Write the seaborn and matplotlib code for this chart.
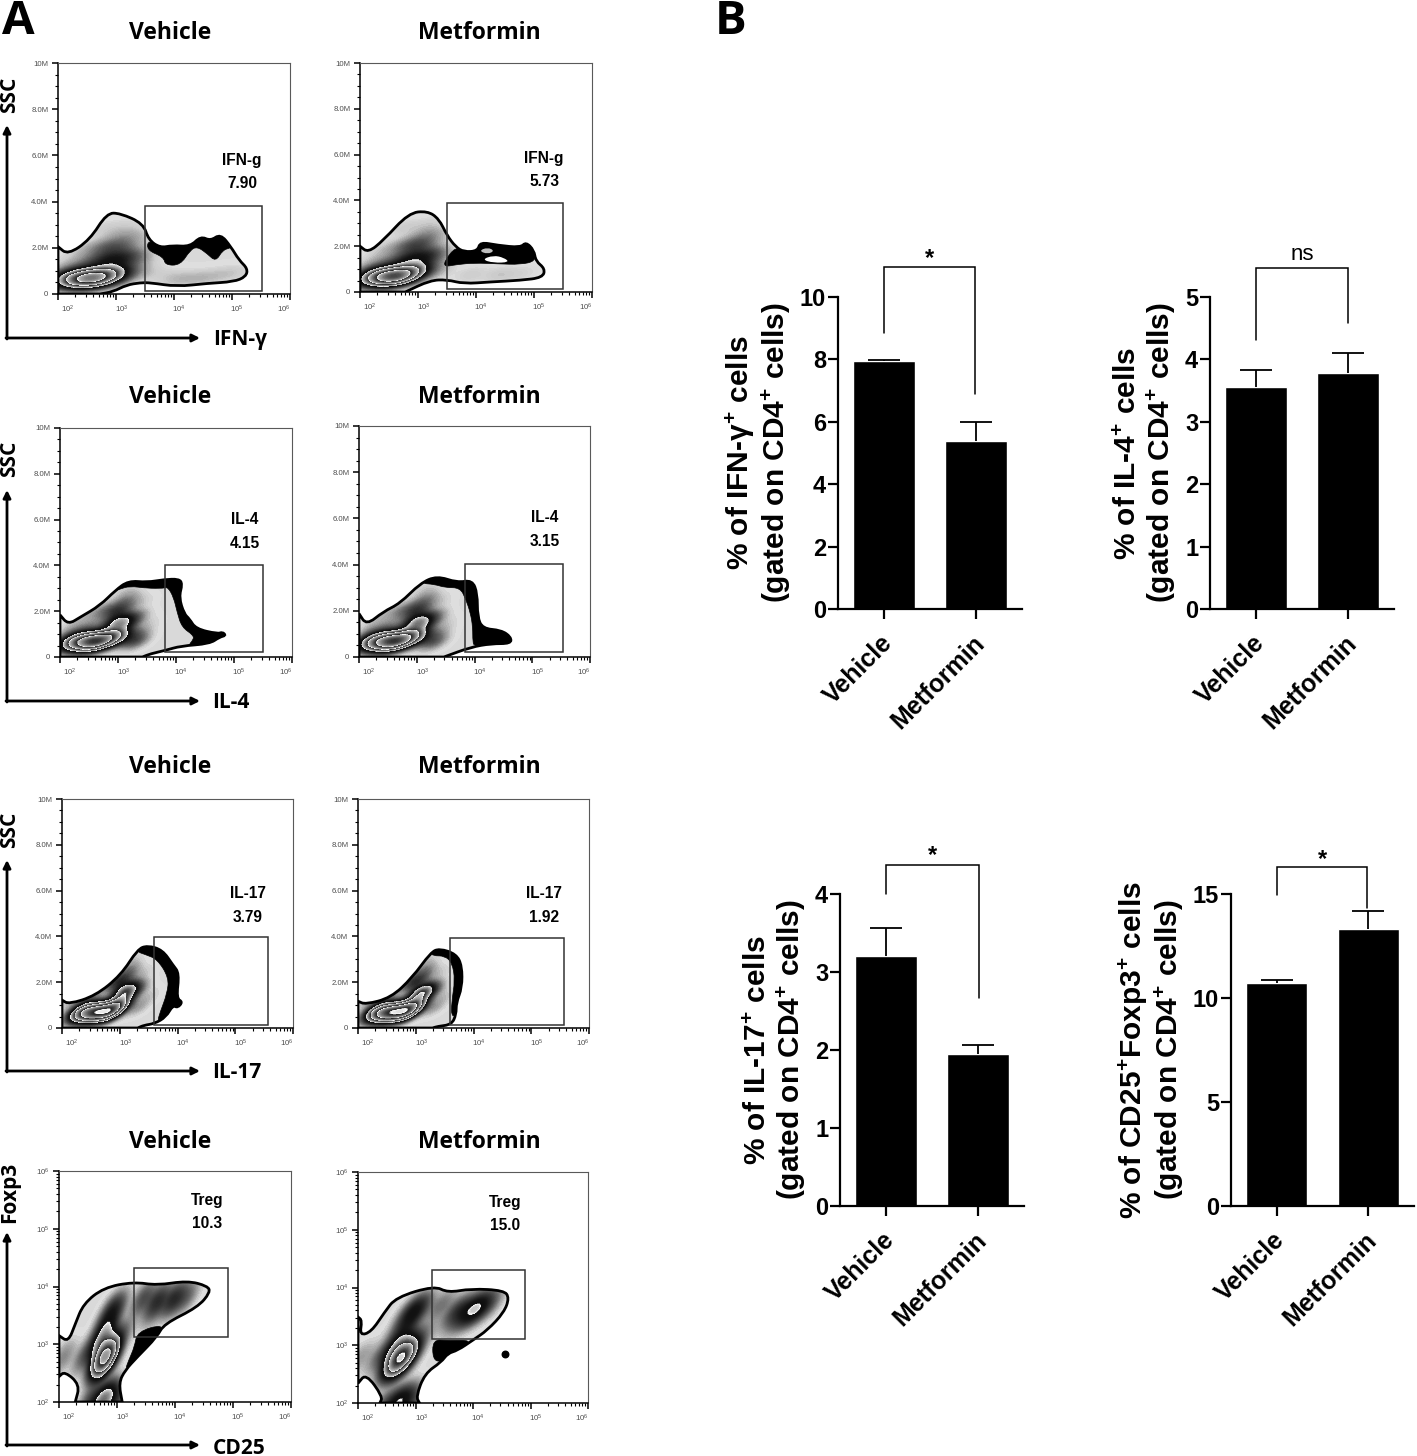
import numpy as np
import pandas as pd
import matplotlib
matplotlib.use('Agg')
import matplotlib.pyplot as plt
import seaborn as sns
from matplotlib.colors import LinearSegmentedColormap, LogNorm
from matplotlib.patches import PathPatch, Rectangle
from matplotlib.path import Path
from matplotlib.transforms import ScaledTranslation

sns.set_style('ticks')
plt.rcParams['font.family'] = ['Liberation Sans', 'DejaVu Sans']
plt.rcParams['mathtext.default'] = 'regular'
for key in ['text.color', 'axes.labelcolor', 'xtick.color', 'ytick.color', 'axes.edgecolor']:
    plt.rcParams[key] = 'black'

W, H = 1417, 1456

# ---- bar chart data (panel B)
groups = ['Vehicle', 'Metformin']
ifn_pct, ifn_err = [7.95, 5.38], [0.03, 0.62]
il4_pct, il4_err = [3.55, 3.78], [0.28, 0.32]
il17_pct, il17_err = [3.20, 1.95], [0.36, 0.11]
treg_pct, treg_err = [10.7, 13.3], [0.17, 0.90]

# ---- flow plots (panel A): outline of the population, black outer contour,
# cell clusters (x, y, weight). x is log10 of the marker, y SSC in millions
# (or log10 of Foxp3 for the last row)
ifn_v_outline = [(2, 2.05), (2.17, 1.7), (2.55, 2.35), (2.84, 3.5), (3.07, 3.5), (3.47, 3.05), (3.56, 2.35),
                 (3.76, 2.0), (3.97, 2.1), (4.28, 2.05), (4.46, 2.5), (4.63, 2.3), (4.8, 2.6), (4.98, 2.05),
                 (5.12, 1.47), (5.27, 1.1), (5.24, 0.75), (5.03, 0.53), (4.57, 0.46), (4.05, 0.32), (3.59, 0.49),
                 (3.42, 0.49), (3.18, 0.39), (2.95, 0.1), (2.72, 0), (2, 0)]
ifn_v_black = [(3.56, 2.35), (3.76, 2.0), (3.97, 2.1), (4.28, 2.05), (4.46, 2.5), (4.63, 2.3), (4.8, 2.6),
               (4.98, 2.05), (4.98, 2.0), (4.84, 1.9), (4.72, 1.4), (4.57, 1.75), (4.4, 2.05), (4.28, 1.9),
               (4.11, 1.25), (3.85, 1.25), (3.82, 1.6), (3.53, 1.9)]
ifn_m_outline = [(2, 2.0), (2.14, 1.72), (2.4, 2.25), (2.84, 3.45), (3.16, 3.54), (3.36, 3.2), (3.5, 2.47),
                 (3.65, 1.97), (3.79, 1.75), (4.03, 1.79), (4.07, 2.18), (4.37, 2.04), (4.77, 1.94), (4.86, 2.18),
                 (5.0, 1.82), (5.03, 1.35), (5.19, 1.02), (5.15, 0.63), (4.77, 0.51), (4.25, 0.44), (3.79, 0.36),
                 (3.5, 0.54), (3.21, 0.51), (2.78, 0), (2, 0)]
ifn_m_black = [(3.65, 1.97), (3.79, 1.75), (4.03, 1.79), (4.07, 2.18), (4.37, 2.04), (4.77, 1.94), (4.86, 2.18),
               (5.0, 1.82), (5.03, 1.35), (4.77, 1.2), (4.37, 1.23), (3.98, 1.27), (3.67, 1.2), (3.45, 1.1),
               (3.47, 1.4)]
ifn_m_hole_white = [(4.1, 1.42), (4.3, 1.6), (4.48, 1.5), (4.58, 1.3), (4.3, 1.27)]
ifn_m_hole_gray = [(4.05, 1.8), (4.2, 1.95), (4.32, 1.8), (4.2, 1.65)]
il4_v_outline = [(2, 1.84), (2.14, 1.42), (2.35, 1.74), (2.69, 2.25), (2.95, 2.9), (3.18, 3.33), (3.5, 3.26),
                 (3.79, 3.38), (4.05, 3.41), (4.11, 3.19), (4.05, 2.61), (4.14, 1.88), (4.23, 1.67), (4.34, 1.23),
                 (4.72, 1.01), (4.8, 1.09), (4.86, 0.94), (4.75, 0.87), (4.58, 0.58), (4.08, 0.48), (3.82, 0.29),
                 (3.56, 0.14), (3.42, 0), (2, 0)]
il4_v_black = [(2.95, 2.9), (3.18, 3.33), (3.5, 3.26), (3.79, 3.38), (4.05, 3.41), (4.11, 3.19), (4.05, 2.61),
               (4.14, 1.88), (4.23, 1.67), (4.34, 1.23), (4.72, 1.01), (4.8, 1.09), (4.86, 0.94), (4.75, 0.87),
               (4.58, 0.58), (4.2, 0.48), (4.3, 0.75), (4.3, 0.95), (4.1, 1.3), (4.02, 1.95), (3.96, 2.6),
               (3.86, 3.05), (3.79, 3.0), (3.5, 3.0), (3.2, 3.1), (3.02, 2.95)]
il4_m_outline = [(2, 1.88), (2.13, 1.38), (2.42, 1.96), (2.71, 2.32), (3.06, 3.19), (3.35, 3.51), (3.7, 3.22),
                 (3.96, 3.33), (4.05, 2.75), (4.05, 1.74), (4.14, 1.23), (4.46, 1.16), (4.63, 0.87), (4.63, 0.58),
                 (4.29, 0.58), (3.94, 0.43), (3.47, 0), (2, 0)]
il4_m_black = [(3.06, 3.19), (3.35, 3.51), (3.7, 3.22), (3.96, 3.33), (4.05, 2.75), (4.05, 1.74), (4.14, 1.23),
               (4.46, 1.16), (4.63, 0.87), (4.63, 0.58), (4.29, 0.58), (4.0, 0.47), (3.97, 0.65), (3.97, 1.3),
               (3.93, 1.9), (3.85, 2.5), (3.75, 3.0), (3.5, 3.0), (3.3, 3.15)]
il17_v_outline = [(2, 1.22), (2.12, 1.04), (2.58, 1.41), (3.02, 2.31), (3.31, 3.44), (3.48, 3.6), (3.74, 3.41),
                  (3.92, 2.75), (4.03, 2.39), (3.98, 1.29), (4.09, 1.14), (4.0, 0.88), (3.92, 1.0), (3.8, 0.48),
                  (3.6, 0.19), (3.42, 0.12), (3.31, 0), (2, 0)]
il17_v_black = [(3.28, 3.35), (3.48, 3.6), (3.74, 3.41), (3.92, 2.75), (4.03, 2.39), (3.98, 1.29), (4.09, 1.14),
                (4.0, 0.88), (3.92, 1.0), (3.8, 0.48), (3.65, 0.25), (3.7, 0.7), (3.82, 1.5), (3.85, 2.2),
                (3.65, 3.0), (3.45, 3.2)]
il17_m_outline = [(2, 1.17), (2.13, 1.03), (2.57, 1.32), (2.94, 2.2), (3.26, 3.3), (3.41, 3.47), (3.7, 3.23),
                  (3.8, 2.71), (3.8, 1.76), (3.7, 1.1), (3.7, 0.59), (3.62, 0.15), (3.38, 0.07), (3.29, 0), (2, 0)]
il17_m_black = [(3.26, 3.3), (3.41, 3.47), (3.7, 3.23), (3.8, 2.71), (3.8, 1.76), (3.7, 1.1), (3.7, 0.59),
                (3.62, 0.5), (3.62, 1.1), (3.68, 2.1), (3.63, 2.85), (3.5, 3.15), (3.3, 3.15)]
treg_v_outline = [(2, 3.15), (2.16, 3.04), (2.28, 3.35), (2.42, 3.7), (2.77, 3.98), (3.29, 4.08), (3.69, 4.02),
                  (4.21, 4.1), (4.56, 4.01), (4.61, 3.9), (4.39, 3.64), (3.81, 3.35), (3.69, 3.13), (3.35, 2.78),
                  (3.14, 2.55), (3.03, 2.33), (3.09, 2), (2.28, 2), (2.36, 2.3), (2.1, 2.53), (2, 2.44)]
treg_v_black = [(3.35, 3.22), (3.81, 3.35), (3.69, 3.13), (3.35, 2.78), (3.14, 2.55), (3.2, 2.72), (3.3, 2.95)]
treg_m_outline = [(2, 3.49), (2.07, 3.43), (2.03, 3.17), (2.23, 3.23), (2.46, 3.57), (2.66, 3.83), (3.33, 4.03),
                  (3.56, 3.91), (3.97, 3.98), (4.54, 3.95), (4.63, 3.82), (4.54, 3.57), (4.25, 3.26), (4.0, 3.09),
                  (3.73, 2.91), (3.56, 2.86), (3.45, 2.71), (3.16, 2.51), (3.01, 2.11), (3.07, 2), (2.38, 2),
                  (2.43, 2.11), (2.14, 2.51), (2, 2.34)]
treg_m_black = [(3.3, 3.1), (3.56, 3.08), (4.0, 3.09), (3.73, 2.91), (3.56, 2.86), (3.45, 2.71), (3.3, 2.75)]
treg_m_dot = (4.55, 2.84)

ssc_cells = [(2.15, 0.68, 3), (2.3, 0.68, 5), (2.45, 0.68, 7), (2.6, 0.68, 9), (2.75, 0.72, 6), (2.88, 0.8, 3.5),
             (3.0, 1.0, 2.6), (3.1, 1.5, 2.4), (3.0, 2.0, 2.0), (2.75, 2.0, 0.9), (3.15, 2.5, 0.9), (3.3, 1.7, 0.9),
             (3.3, 0.9, 0.6), (2.5, 1.3, 0.8), (2.2, 1.2, 0.5), (3.4, 2.4, 0.3), (3.5, 1.4, 0.3), (2.75, 2.8, 0.4),
             (2.4, 1.8, 0.4), (3.2, 3.0, 0.3)]
ifn_v_cells = ssc_cells + [(2.84, 1.45, 3.0), (4.05, 0.65, 0.7), (4.5, 0.7, 0.7), (4.98, 0.9, 0.6), (3.7, 0.9, 0.3)]
ifn_m_cells = ssc_cells + [(2.82, 1.4, 2.8), (3.9, 0.75, 0.4), (4.4, 0.75, 0.45), (4.8, 0.8, 0.3)]
il4_v_cells = ssc_cells + [(2.97, 1.5, 3.0), (3.3, 0.7, 1.4), (3.1, 0.85, 1.4)]
il4_m_cells = ssc_cells + [(2.98, 1.5, 3.2), (3.3, 0.65, 1.2), (3.1, 0.8, 1.2)]
il17_v_cells = ssc_cells[1:] + [(3.1, 1.65, 3.2), (3.0, 1.1, 1.6), (2.85, 0.7, 4)]
il17_m_cells = ssc_cells[1:] + [(3.1, 1.55, 3.2), (3.0, 1.0, 1.6), (2.85, 0.7, 4)]
treg_v_cells = [(2.8, 2.81, 9), (2.78, 2.65, 3), (2.75, 3.05, 3), (2.94, 3.61, 1.6), (2.8, 3.3, 1.5), (2.77, 2.04, 4),
                (2.55, 2.04, 1), (2.98, 2.04, 1), (2.08, 2.78, 0.5), (2.45, 2.8, 0.8), (3.98, 3.78, 1.5),
                (3.7, 3.75, 1.4), (3.46, 3.8, 1.0), (4.2, 3.82, 0.7), (3.6, 3.5, 0.25), (3.1, 3.2, 0.5)]
treg_m_cells = [(2.75, 2.8, 9), (2.72, 2.65, 3), (2.72, 3.0, 3), (2.99, 3.61, 2.4), (2.8, 3.3, 1.2), (2.72, 2.02, 3),
                (2.5, 2.02, 0.8), (2.95, 2.02, 0.8), (2.05, 2.8, 0.4), (2.4, 2.8, 0.7), (4.02, 3.62, 3.0),
                (3.75, 3.6, 1.5), (4.25, 3.7, 1.0), (3.45, 3.7, 0.7), (3.7, 3.35, 0.3), (3.15, 3.2, 0.4)]

# gates: x0, x1, y0, y1
ifn_v_gate, ifn_m_gate = (3.5, 5.51, 0.14, 3.83), (3.5, 5.5, 0.13, 3.89)
il4_v_gate, il4_m_gate = (3.81, 5.5, 0.22, 4.02), (3.84, 5.53, 0.22, 4.02)
il17_v_gate, il17_m_gate = (3.59, 5.57, 0.13, 3.97), (3.59, 5.57, 0.13, 3.93)
treg_v_gate, treg_m_gate = (3.29, 4.91, 3.13, 4.32), (3.29, 4.9, 3.11, 4.30)

# zebra grey scale of the density plots (applied to log density)
zebra = LinearSegmentedColormap.from_list('zebra', [
    (0.0, '0.87'), (0.2, '0.80'), (0.36, '0.6'), (0.62, '0.08'), (0.66, '0.05'), (0.665, '1.0'), (0.675, '0.8'),
    (0.76, '0.2'), (0.765, '1.0'), (0.775, '0.75'), (0.85, '0.15'), (0.855, '1.0'), (0.865, '0.7'), (0.93, '0.15'),
    (0.935, '1.0'), (0.945, '0.85'), (1.0, '0.6')], N=1024)

fig = plt.figure(figsize=(W / 100, H / 100), dpi=100)


def px_axes(left, right, top, bottom):
    return fig.add_axes([left / W, 1 - bottom / H, (right - left) / W, (bottom - top) / H])


def log_ticks(ax, axis):
    major = [2, 3, 4, 5, 6]
    minor = [d + np.log10(m) for d in major[:-1] for m in range(2, 10)]
    labels = ['$10^{%d}$' % d for d in major]
    if axis == 'x':
        ax.set_xticks(major, labels)
        ax.set_xticks(minor, minor=True)
    else:
        ax.set_yticks(major, labels)
        ax.set_yticks(minor, minor=True)


def curve(points, floor):
    # quadratic curve with the read points as control points; points on the frame stay sharp
    ctrl = []
    for p in points:
        ctrl.append(p)
        if p[0] == 2 or p[1] == floor:
            ctrl.append(p)
    ctrl = np.array(ctrl, dtype=float)
    mid = (ctrl + np.roll(ctrl, -1, axis=0)) / 2
    verts, codes = [mid[-1]], [Path.MOVETO]
    for c, m in zip(ctrl, mid):
        verts += [c, m]
        codes += [Path.CURVE3, Path.CURVE3]
    return Path(verts, codes)


def flow_panel(frame, outline, cells, gate, black=None, log_y=False, bw=0.5, dmax=2.2):
    floor = 2 if log_y else 0
    ax = px_axes(*frame)
    ax.add_patch(PathPatch(curve(outline, floor), fc='0.85', ec='none', zorder=1))
    clip = PathPatch(curve(outline, floor), fc='none', ec='none', transform=ax.transData)
    ax.add_patch(clip)
    cx, cy, cw = zip(*cells)
    sns.kdeplot(x=list(cx), y=list(cy), weights=list(cw), fill=True, levels=110, thresh=0.002, cmap=zebra,
                norm=LogNorm(vmin=0.01, vmax=dmax), bw_method=bw, gridsize=250, ax=ax, zorder=2)
    for coll in ax.collections:
        coll.set_clip_path(clip)
    if black is not None:
        ax.add_patch(PathPatch(curve(black, floor), fc='black', ec='black', lw=0.5, zorder=3))
    ax.add_patch(PathPatch(curve(outline, floor), fc='none', ec='black', lw=2.0, zorder=4))
    ax.add_patch(Rectangle((gate[0], gate[2]), gate[1] - gate[0], gate[3] - gate[2], fc='none', ec='0.2', lw=1.1,
                           zorder=5))
    ax.set_xlim(2, 6)
    log_ticks(ax, 'x')
    if log_y:
        ax.set_ylim(2, 6)
        log_ticks(ax, 'y')
    else:
        ax.set_ylim(0, 10)
        ax.set_yticks([0, 2, 4, 6, 8, 10], ['0', '2.0M', '4.0M', '6.0M', '8.0M', '10M'])
        ax.set_yticks(np.arange(0, 10, 0.5), minor=True)
    ax.set_xlabel('')
    ax.set_ylabel('')
    ax.tick_params(which='major', length=4, width=1.1, labelsize=5.6, labelcolor='0.3', pad=3)
    ax.tick_params(which='minor', length=2, width=0.8)
    for spine in ['top', 'right']:
        ax.spines[spine].set_linewidth(0.8)
        ax.spines[spine].set_color('0.35')
    for spine in ['left', 'bottom']:
        ax.spines[spine].set_linewidth(1.1)
    # the cytometer software shifts its x labels off the ticks
    for lab, shift in zip(ax.get_xticklabels(), [10, 6, 5, 5, -6]):
        lab.set_transform(lab.get_transform() + ScaledTranslation(shift / 100, 0, fig.dpi_scale_trans))
    return ax


flow_panel((58, 290, 63, 294), ifn_v_outline, ifn_v_cells, ifn_v_gate, ifn_v_black)
ax_ifn_m = flow_panel((360, 592, 63, 292), ifn_m_outline, ifn_m_cells, ifn_m_gate, ifn_m_black)
ax_ifn_m.add_patch(PathPatch(curve(ifn_m_hole_white, 0), fc='white', ec='none', zorder=4))
ax_ifn_m.add_patch(PathPatch(curve(ifn_m_hole_gray, 0), fc='0.75', ec='none', zorder=4))
flow_panel((60, 292, 428, 657), il4_v_outline, il4_v_cells, il4_v_gate, il4_v_black)
flow_panel((359, 590, 426, 657), il4_m_outline, il4_m_cells, il4_m_gate, il4_m_black)
flow_panel((62, 293, 799, 1028), il17_v_outline, il17_v_cells, il17_v_gate, il17_v_black)
flow_panel((358, 589, 799, 1028), il17_m_outline, il17_m_cells, il17_m_gate, il17_m_black)
flow_panel((59, 291, 1171, 1402), treg_v_outline, treg_v_cells, treg_v_gate, treg_v_black, log_y=True, bw=0.33, dmax=6)
ax_treg_m = flow_panel((358, 588, 1172, 1403), treg_m_outline, treg_m_cells, treg_m_gate, treg_m_black, log_y=True,
                       bw=0.33, dmax=6)
ax_treg_m.scatter([treg_m_dot[0]], [treg_m_dot[1]], s=22, color='black', zorder=6)


def bar_panel(frame, pct, err, ymax, yticks, ylabel):
    ax = px_axes(*frame)
    df = pd.DataFrame({'group': groups, 'pct': pct})
    sns.barplot(data=df, x='group', y='pct', color='black', saturation=1, width=0.67, errorbar=None, ax=ax)
    tops = [p + e for p, e in zip(pct, err)]
    ax.vlines([0, 1], pct, tops, color='black', lw=1.3)
    ax.hlines(tops, [-0.174, 0.826], [0.174, 1.174], color='black', lw=1.3)
    ax.set_xlim(-0.5, 1.5)
    ax.set_ylim(0, ymax)
    ax.set_yticks(yticks)
    ax.set_xlabel('')
    ax.set_ylabel(ylabel, fontsize=21.5, fontweight='bold', labelpad=5, linespacing=1.1)
    ax.tick_params(length=7.5, width=1.6, labelsize=17, pad=1)
    for lab in ax.get_yticklabels():
        lab.set_fontweight('bold')
    plt.setp(ax.get_xticklabels(), rotation=45, ha='right', rotation_mode='anchor', fontweight='bold', fontsize=18)
    for lab in ax.get_xticklabels():
        lab.set_transform(lab.get_transform() + ScaledTranslation(-0.04, -0.10, fig.dpi_scale_trans))
    sns.despine(ax=ax)
    for spine in ['left', 'bottom']:
        ax.spines[spine].set_linewidth(1.6)
    return ax


bar_panel((838, 1022, 297, 609), ifn_pct, ifn_err, 10, [0, 2, 4, 6, 8, 10],
          '% of IFN-γ$^{+}$ cells\n(gated on CD4$^{+}$ cells)')
bar_panel((1210, 1394, 297, 609), il4_pct, il4_err, 5, [0, 1, 2, 3, 4, 5],
          '% of IL-4$^{+}$ cells\n(gated on CD4$^{+}$ cells)')
bar_panel((840, 1024, 894, 1206), il17_pct, il17_err, 4, [0, 1, 2, 3, 4],
          '% of IL-17$^{+}$ cells\n(gated on CD4$^{+}$ cells)')
bar_panel((1231, 1414, 894, 1206), treg_pct, treg_err, 15, [0, 5, 10, 15],
          '% of CD25$^{+}$Foxp3$^{+}$ cells\n(gated on CD4$^{+}$ cells)')

# overlay in image pixels for the annotations
over = fig.add_axes([0, 0, 1, 1], zorder=10)
over.set_xlim(0, W)
over.set_ylim(H, 0)
over.axis('off')
HEAD = ['Open Sans', 'DejaVu Sans']

over.text(18, 21, 'A', fontsize=34, fontweight='bold', family=HEAD, ha='center', va='center')
over.text(731, 21, 'B', fontsize=34, fontweight='bold', family=HEAD, ha='center', va='center')
for y in [33, 397, 767, 1142]:
    over.text(170, y, 'Vehicle', fontsize=16.5, fontweight='bold', family=HEAD, ha='center', va='center')
    over.text(479, y, 'Metformin', fontsize=16.5, fontweight='bold', family=HEAD, ha='center', va='center')

# hand drawn axes arrows with their labels
for top, ybase, xlab, ylab, xname, yname, ymid in [
        (125, 338, 240, 340, 'IFN-γ', 'SSC', 95), (490, 701, 231, 703, 'IL-4', 'SSC', 459),
        (860, 1071, 237, 1073, 'IL-17', 'SSC', 830), (1232, 1445, 239, 1448, 'CD25', 'Foxp3', 1192)]:
    over.annotate('', xy=(7, top), xytext=(7, ybase + 1), arrowprops=dict(arrowstyle='-|>', lw=2, color='black', shrinkA=0, shrinkB=0, mutation_scale=11))
    over.annotate('', xy=(200, ybase), xytext=(6, ybase), arrowprops=dict(arrowstyle='-|>', lw=2, color='black', shrinkA=0, shrinkB=0, mutation_scale=11))
    over.text(xlab, ylab, xname, fontsize=15, fontweight='bold', family=HEAD, ha='center', va='center')
    over.text(10, ymid, yname, fontsize=15, fontweight='bold', family=HEAD, rotation=90, ha='center', va='center')

# gate names and percentages
for x, y0, y1, name, value in [
        (242, 160, 183, 'IFN-g', '7.90'), (544, 159, 182, 'IFN-g', '5.73'),
        (245, 519, 543, 'IL-4', '4.15'), (545, 518, 542, 'IL-4', '3.15'),
        (248, 894, 917, 'IL-17', '3.79'), (544, 894, 918, 'IL-17', '1.92'),
        (207, 1200, 1224, 'Treg', '10.3'), (505, 1202, 1226, 'Treg', '15.0')]:
    over.text(x, y0, name, fontsize=11.2, fontweight='bold', ha='center', va='center')
    over.text(x, y1, value, fontsize=11.2, fontweight='bold', ha='center', va='center')

# significance brackets
for x0, x1, y_left, y_top, y_right, mark, ymark in [
        (884, 975, 333, 267, 394, '*', 259), (1256, 1348, 340, 268, 323, 'ns', 254),
        (886, 979, 894, 865, 998, '*', 856), (1277, 1367, 895, 867, 908, '*', 860)]:
    over.plot([x0, x0, x1, x1], [y_left, y_top, y_top, y_right], color='black', lw=1.1, solid_joinstyle='miter')
    over.text((x0 + x1) / 2, ymark, mark, fontsize=16 if mark == 'ns' else 17,
              fontweight='bold' if mark == '*' else 'normal', ha='center', va='center')

fig.savefig('out.png', dpi=100)
